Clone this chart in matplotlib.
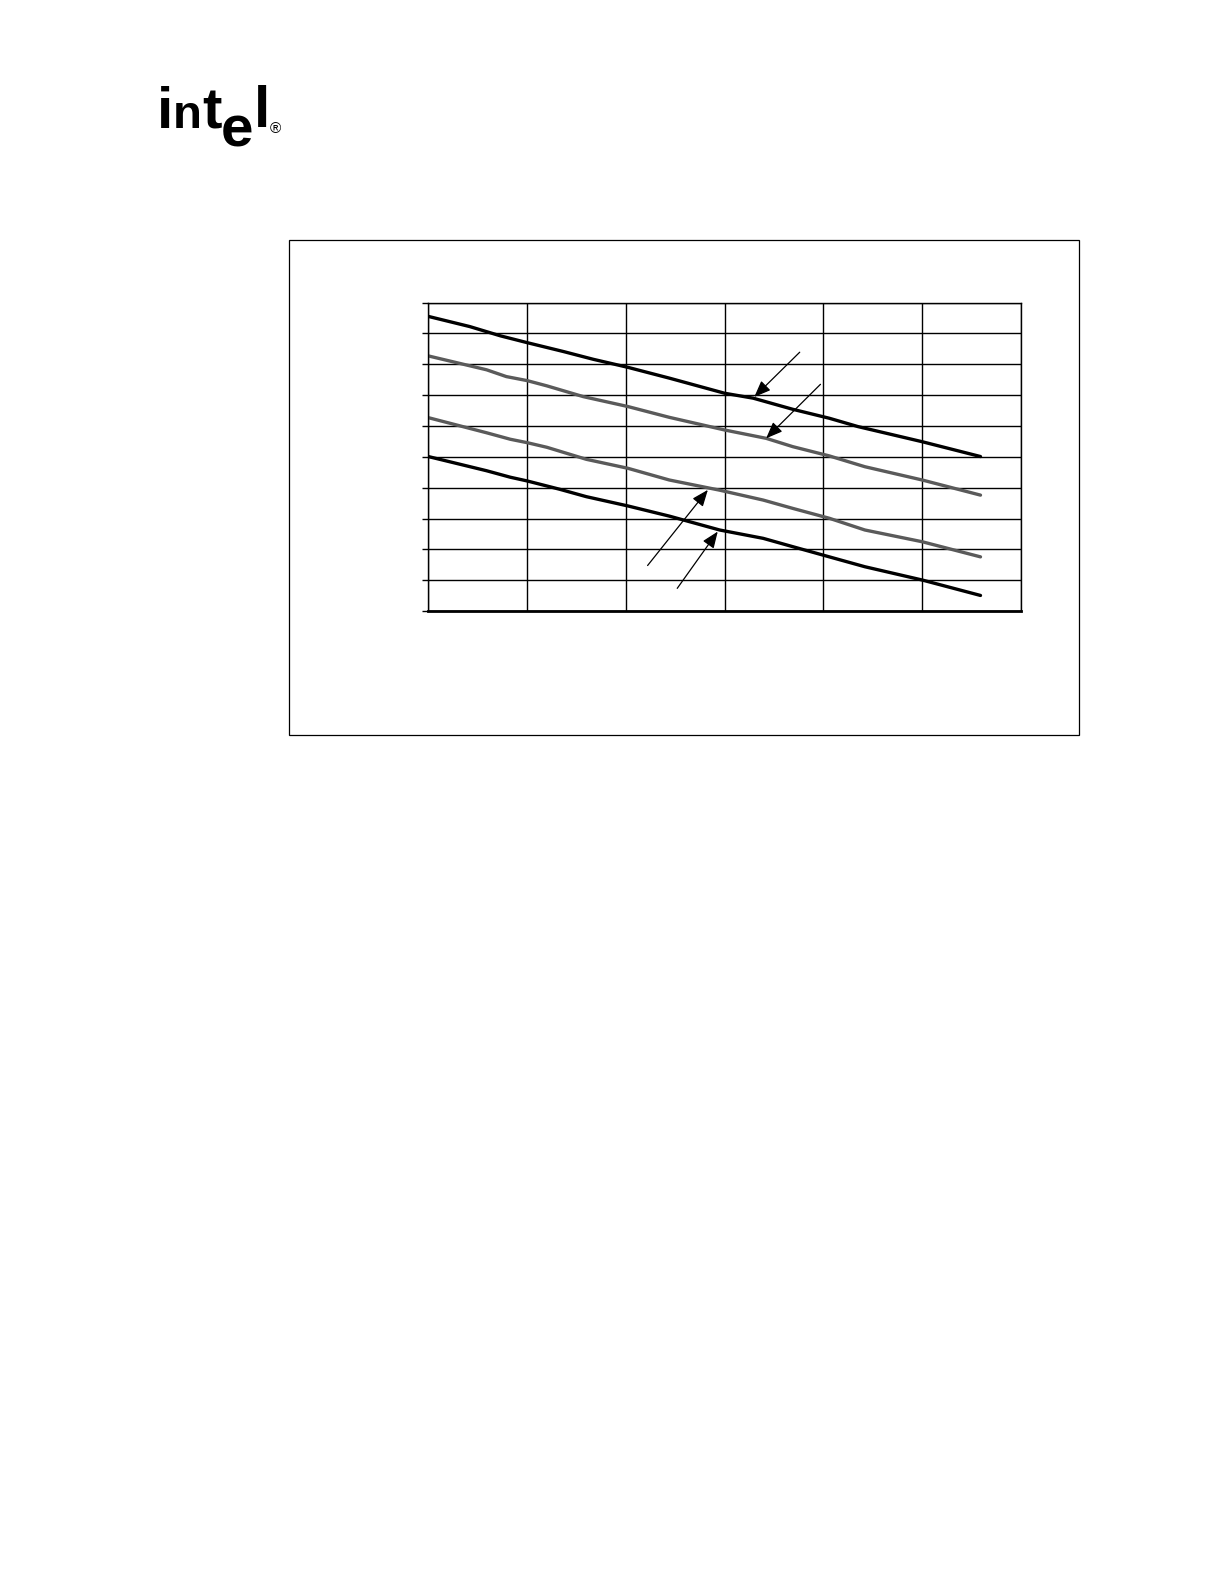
import matplotlib
matplotlib.use("Agg")
import matplotlib.pyplot as plt

# page is 1224 x 1584 px
W, H = 1224, 1584

# curves (x in grid columns, y in grid rows)
top_black_x = [0.0, 0.42, 0.73, 1.0, 1.37, 1.67, 2.02, 2.44, 3.0, 3.29, 3.69, 4.06, 4.35, 5.0, 5.59]
top_black_y = [9.55, 9.22, 8.92, 8.70, 8.41, 8.16, 7.90, 7.55, 7.06, 6.90, 6.54, 6.25, 5.98, 5.49, 5.01]

top_gray_x = [0.0, 0.59, 0.79, 1.0, 1.2, 1.57, 2.02, 2.44, 3.0, 3.42, 3.69, 4.06, 4.42, 5.0, 5.59]
top_gray_y = [8.27, 7.82, 7.60, 7.47, 7.30, 6.95, 6.63, 6.28, 5.87, 5.60, 5.33, 5.03, 4.68, 4.25, 3.76]

low_gray_x = [0.0, 0.59, 0.83, 1.0, 1.2, 1.6, 2.02, 2.44, 2.95, 3.39, 3.69, 4.06, 4.42, 5.0, 5.59]
low_gray_y = [6.27, 5.78, 5.57, 5.46, 5.31, 4.92, 4.63, 4.25, 3.92, 3.60, 3.33, 3.01, 2.63, 2.25, 1.76]

low_black_x = [0.0, 0.59, 0.83, 1.0, 1.33, 1.6, 2.02, 2.44, 2.95, 3.39, 3.69, 4.06, 4.42, 5.0, 5.59]
low_black_y = [5.01, 4.55, 4.34, 4.22, 3.95, 3.71, 3.41, 3.08, 2.63, 2.36, 2.09, 1.76, 1.44, 1.01, 0.51]

# arrows: (tail, head)
arrow_tails = [(3.76, 8.39), (3.97, 7.35), (2.22, 1.48), (2.52, 0.74)]
arrow_heads = [(3.30, 6.94), (3.42, 5.60), (2.83, 3.93), (2.93, 2.58)]

n_cols = 6
n_rows = 10

fig = plt.figure(figsize=(W / 100, H / 100), dpi=100)
fig.patch.set_facecolor("white")

# outer frame of the figure box
box_l, box_t, box_r, box_b = 289, 240, 1079, 735
frame = plt.Rectangle((box_l / W, 1 - box_b / H), (box_r - box_l) / W, (box_b - box_t) / H,
                      transform=fig.transFigure, fill=False, edgecolor="black", lw=0.9)
fig.patches.append(frame)

# plot area
ax_l, ax_t, ax_r, ax_b = 428.3, 302.5, 1021, 611.2
ax = fig.add_axes([ax_l / W, 1 - ax_b / H, (ax_r - ax_l) / W, (ax_b - ax_t) / H])
ax.set_xlim(0, n_cols)
ax.set_ylim(0, n_rows)
ax.set_xticks(range(n_cols + 1))
ax.set_yticks(range(n_rows + 1))
ax.set_xticklabels([])
ax.set_yticklabels([])
ax.grid(True, color="black", lw=1.0)
ax.tick_params(axis="x", length=0)
ax.tick_params(axis="y", direction="out", length=4.5, width=1.0, color="black")
for s in ["top", "right", "left"]:
    ax.spines[s].set_linewidth(1.0)
ax.spines["bottom"].set_linewidth(2.0)
ax.set_axisbelow(True)

ax.plot(top_black_x, top_black_y, color="black", lw=2.4, solid_capstyle="round")
ax.plot(top_gray_x, top_gray_y, color="#5a5a5a", lw=2.4, solid_capstyle="round")
ax.plot(low_gray_x, low_gray_y, color="#5a5a5a", lw=2.4, solid_capstyle="round")
ax.plot(low_black_x, low_black_y, color="black", lw=2.4, solid_capstyle="round")

for tail, head in zip(arrow_tails, arrow_heads):
    ax.annotate("", xy=head, xytext=tail, xycoords="data", textcoords="data",
                arrowprops=dict(arrowstyle="-|>,head_length=0.5,head_width=0.2",
                                mutation_scale=20, color="black", lw=0.9,
                                shrinkA=0, shrinkB=0))

# intel logo, top left (each letter placed by hand, dropped e)
logo_font = ["Liberation Sans", "DejaVu Sans"]
def px(x, y):
    return x / W, 1 - y / H

fig.text(*px(156.8, 128.3), "i", fontsize=42, fontweight="bold", family=logo_font, va="baseline")
fig.text(*px(173.2, 128.3), "n", fontsize=34, fontweight="bold", family=logo_font, va="baseline")
fig.text(*px(202.2, 128.3), "t", fontsize=42, fontweight="bold", family=logo_font, va="baseline")
fig.text(*px(221.2, 146.3), "e", fontsize=42, fontweight="bold", family=logo_font, va="baseline")
fig.text(*px(253.8, 126.7), "l", fontsize=42, fontweight="bold", family=logo_font, va="baseline")
fig.text(*px(269.5, 133.0), "\u00ae", fontsize=11, family=logo_font, va="baseline")

fig.savefig("out.png", dpi=100, facecolor="white")
